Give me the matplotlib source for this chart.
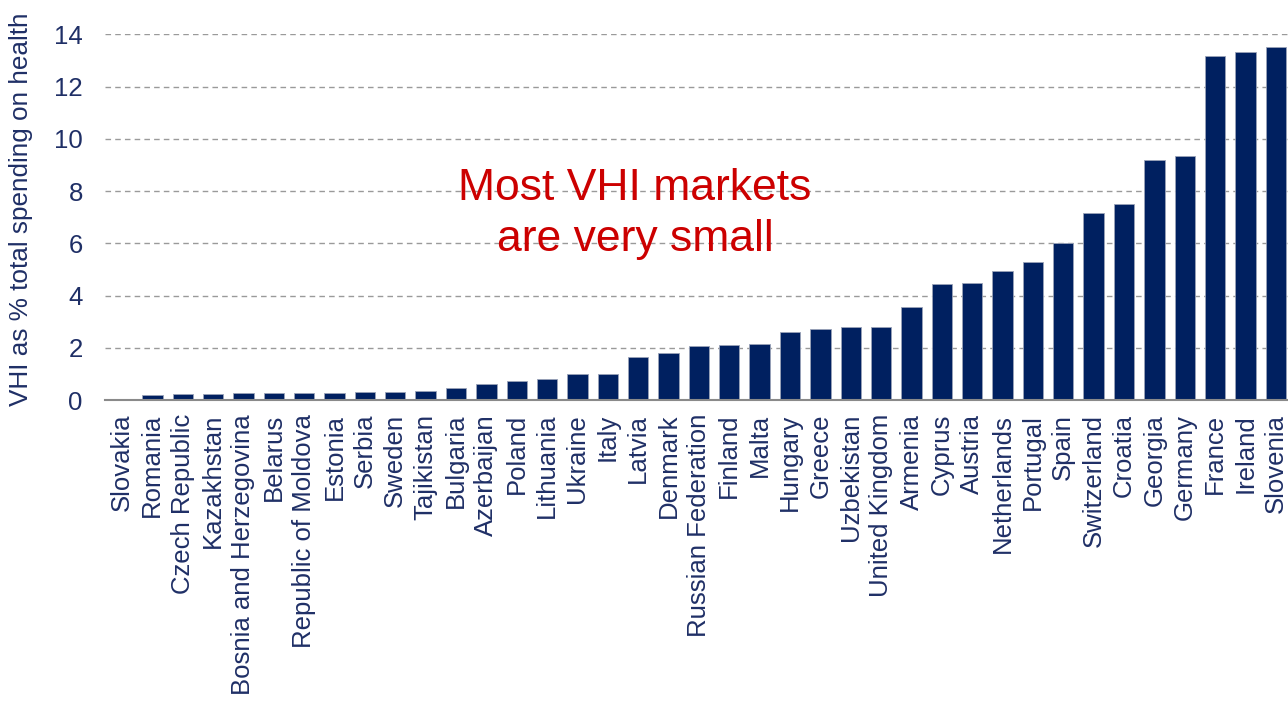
import matplotlib
matplotlib.use("Agg")
import matplotlib.pyplot as plt

countries = ["Slovakia", "Romania", "Czech Republic", "Kazakhstan",
             "Bosnia and Herzegovina", "Belarus", "Republic of Moldova",
             "Estonia", "Serbia", "Sweden", "Tajikistan", "Bulgaria",
             "Azerbaijan", "Poland", "Lithuania", "Ukraine", "Italy", "Latvia",
             "Denmark", "Russian Federation", "Finland", "Malta", "Hungary",
             "Greece", "Uzbekistan", "United Kingdom", "Armenia", "Cyprus",
             "Austria", "Netherlands", "Portugal", "Spain", "Switzerland",
             "Croatia", "Georgia", "Germany", "France", "Ireland", "Slovenia"]
vhi_share = [0.0, 0.20, 0.24, 0.24, 0.27, 0.27, 0.28, 0.28, 0.32, 0.32, 0.35,
             0.45, 0.60, 0.73, 0.80, 0.98, 1.01, 1.66, 1.79, 2.07, 2.11, 2.15,
             2.60, 2.73, 2.79, 2.81, 3.55, 4.44, 4.49, 4.95, 5.28, 6.00, 7.15,
             7.50, 9.19, 9.33, 13.17, 13.33, 13.51]
yticks = [0, 2, 4, 6, 8, 10, 12, 14]
ylabel = "VHI as % total spending on health"
annotation = "Most VHI markets\nare very small"

plt.rcParams["font.family"] = ["Liberation Sans", "DejaVu Sans"]
navy = "#002060"
text_navy = "#1F2F66"

fig = plt.figure(figsize=(12.88, 7.04), dpi=100)
ax = fig.add_axes([105 / 1288, 1 - 400 / 704, 1 - 105 / 1288, (400 - 34.3) / 704])

x = list(range(len(countries)))
ax.bar(x, vhi_share, width=0.67, color=navy, edgecolor="#9AA3B8",
       linewidth=0.6, zorder=3)

ax.set_ylim(0, 14.0)
ax.set_xlim(-0.56, 38.4)
ax.set_yticks(yticks)
ax.yaxis.grid(True, linestyle=(0, (4, 3)), color="#9A9A9A", linewidth=1.0,
              zorder=0)
ax.set_axisbelow(True)
ax.set_xticks(x)
ax.set_xticklabels(countries, rotation=90, fontsize=18.5, color=text_navy)
ax.tick_params(axis="x", length=0, pad=10)
ax.tick_params(axis="y", length=0, pad=16, labelsize=18.5, labelcolor=text_navy)

for s in ["top", "right", "left"]:
    ax.spines[s].set_visible(False)
ax.spines["bottom"].set_color("#8A8A8A")
ax.spines["bottom"].set_linewidth(1.5)
ax.spines["bottom"].set_zorder(4)

ax.set_ylabel(ylabel, fontsize=18.8, color=text_navy)
ax.yaxis.set_label_coords((33 - 105) / 1183, 0.522)

fig.text(635 / 1288, 1 - 214 / 704, annotation, ha="center", va="center",
         fontsize=32, color="#CC0000", linespacing=1.33)

fig.savefig("out.png", dpi=100)
